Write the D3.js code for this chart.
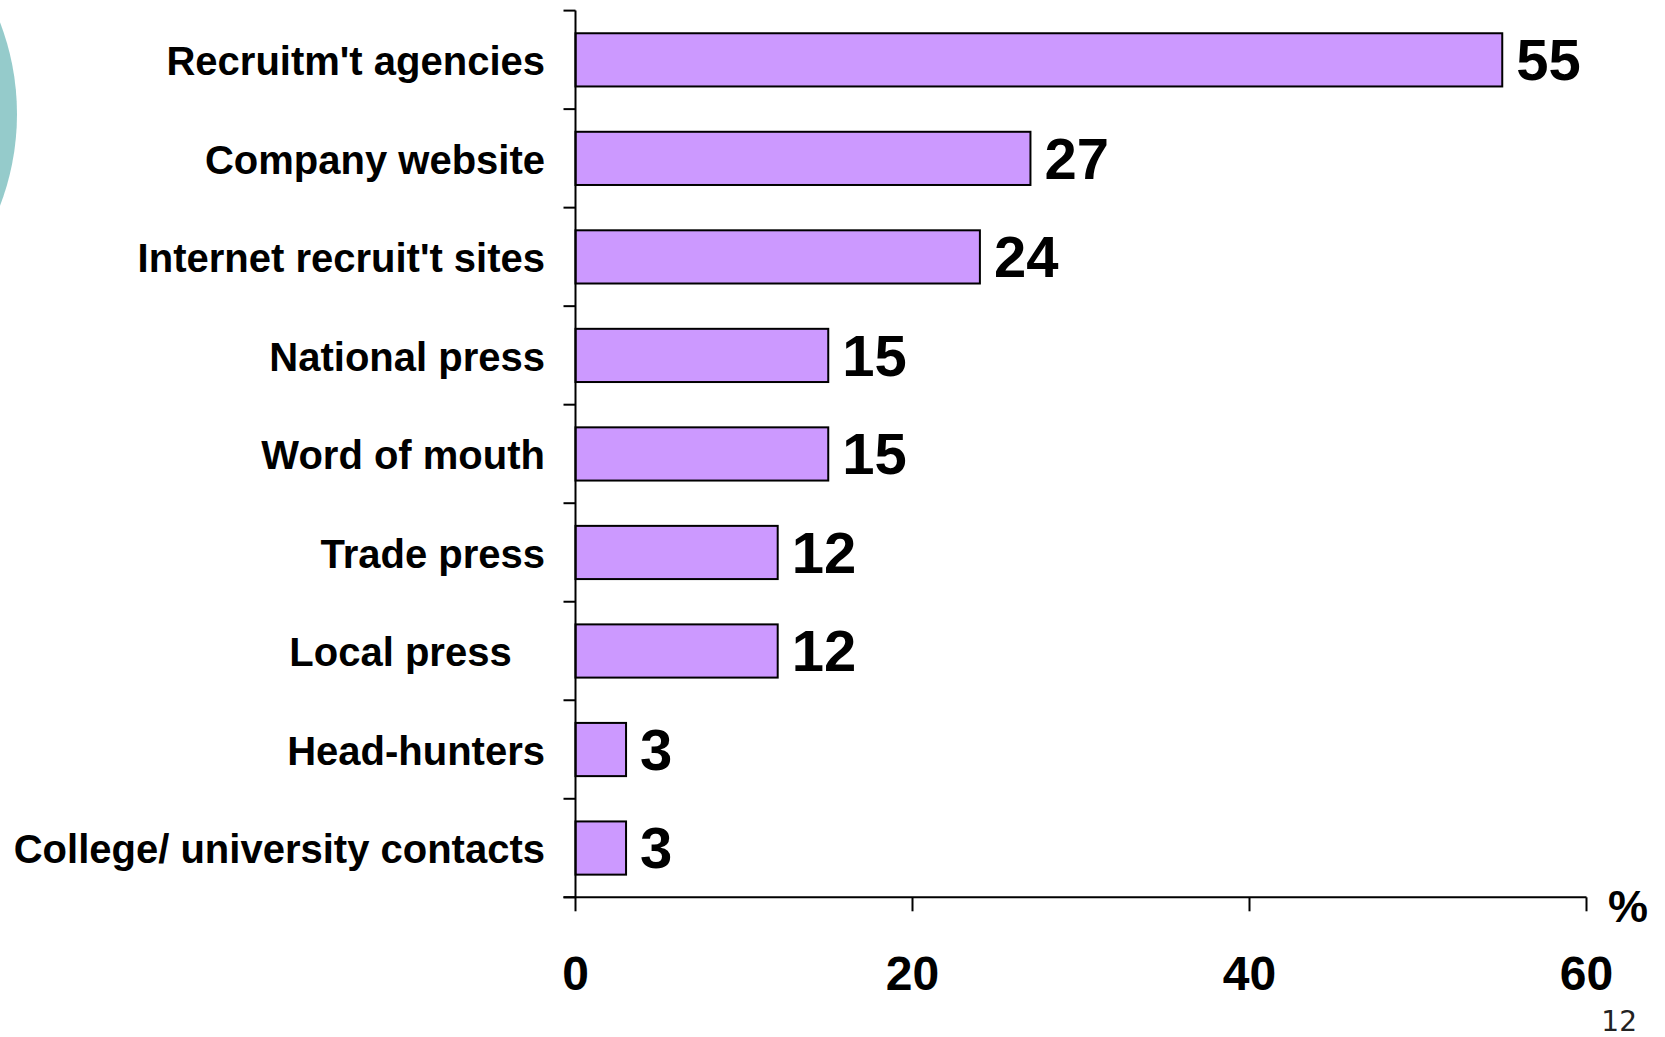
<!DOCTYPE html>
<html>
<head>
<meta charset="utf-8">
<script src="https://cdn.jsdelivr.net/npm/d3@7"></script>
<style>
  html, body { margin: 0; padding: 0; background: #fff; }
  svg { display: block; }
  text { font-family: "Liberation Sans", Arial, sans-serif; }
</style>
</head>
<body>
<svg id="chart" width="1665" height="1037"></svg>
<script>
// Recruitment channels used (% of respondents)
const categories = [
  "Recruitm't agencies",
  "Company website",
  "Internet recruit't sites",
  "National press",
  "Word of mouth",
  "Trade press",
  "Local press\u00a0\u00a0\u00a0",
  "Head-hunters",
  "College/ university contacts"
];
const values = [55, 27, 24, 15, 15, 12, 12, 3, 3];
const xTicks = [0, 20, 40, 60];
const unitLabel = "%";
const pageNumber = "12";

const svg = d3.select("#chart");

// decorative circle on the left edge of the slide
svg.append("circle")
  .attr("cx", -239).attr("cy", 114).attr("r", 256)
  .attr("fill", "#95CBCB");

const plotLeft = 575.5, plotRight = 1586.5, plotTop = 10.6, plotBottom = 897.3;

const x = d3.scaleLinear().domain([0, 60]).range([plotLeft, plotRight]);
const y = d3.scaleBand()
  .domain(categories)
  .range([plotTop, plotBottom])
  .paddingInner(0.46)
  .paddingOuter(0.23);

const step = y.step();
const bandStart = i => plotTop + i * step;

// bars
svg.append("g").selectAll("rect")
  .data(values)
  .join("rect")
  .attr("x", x(0))
  .attr("y", (d, i) => y(categories[i]))
  .attr("width", d => x(d) - x(0))
  .attr("height", y.bandwidth())
  .attr("fill", "#CC99FF")
  .attr("stroke", "#000")
  .attr("stroke-width", 2);

// value labels
svg.append("g").selectAll("text")
  .data(values)
  .join("text")
  .attr("x", d => x(d) + 14)
  .attr("y", (d, i) => y(categories[i]) + y.bandwidth() / 2)
  .attr("dy", "0.35em")
  .attr("font-size", 58)
  .attr("font-weight", "bold")
  .attr("fill", "#000")
  .text(d => d);

// category labels
svg.append("g").selectAll("text")
  .data(categories)
  .join("text")
  .attr("x", 545)
  .attr("y", d => y(d) + y.bandwidth() / 2)
  .attr("dy", "0.38em")
  .attr("text-anchor", "end")
  .attr("font-size", 40)
  .attr("font-weight", "bold")
  .style("white-space", "pre")
  .attr("fill", "#000")
  .text(d => d);

// value axis: line, ticks and labels
const axis = svg.append("g").attr("stroke", "#000").attr("stroke-width", 2);
axis.append("line")
  .attr("x1", plotLeft - 12).attr("x2", plotRight)
  .attr("y1", plotBottom).attr("y2", plotBottom);
axis.selectAll("line.xt")
  .data(xTicks)
  .join("line")
  .attr("class", "xt")
  .attr("x1", d => x(d)).attr("x2", d => x(d))
  .attr("y1", plotBottom).attr("y2", plotBottom + 14);

svg.append("g").selectAll("text")
  .data(xTicks)
  .join("text")
  .attr("x", d => x(d))
  .attr("y", 990)
  .attr("text-anchor", "middle")
  .attr("font-size", 48)
  .attr("font-weight", "bold")
  .attr("fill", "#000")
  .text(d => d);

// category axis: line and tick marks at band boundaries
axis.append("line")
  .attr("x1", plotLeft).attr("x2", plotLeft)
  .attr("y1", plotTop).attr("y2", plotBottom);
axis.selectAll("line.yt")
  .data(d3.range(categories.length + 1))
  .join("line")
  .attr("class", "yt")
  .attr("x1", plotLeft - 12).attr("x2", plotLeft)
  .attr("y1", i => bandStart(i)).attr("y2", i => bandStart(i));

// unit label
svg.append("text")
  .attr("x", 1608)
  .attr("y", 922)
  .attr("font-size", 45)
  .attr("font-weight", "bold")
  .attr("fill", "#000")
  .text(unitLabel);

// slide number
svg.append("text")
  .attr("x", 1637)
  .attr("y", 1031)
  .attr("text-anchor", "end")
  .style("font-family", "'DejaVu Sans', Verdana, sans-serif")
  .attr("font-size", 28)
  .attr("fill", "#222")
  .text(pageNumber);
</script>
</body>
</html>
